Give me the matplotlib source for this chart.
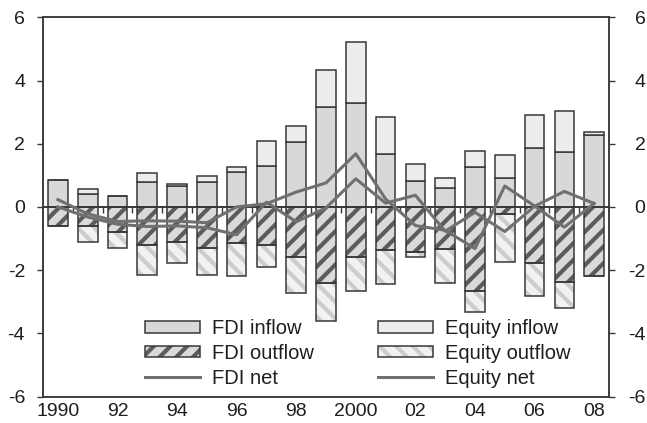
import numpy as np
import matplotlib
matplotlib.use("Agg")
import matplotlib.pyplot as plt
from matplotlib.patches import Patch
from matplotlib.lines import Line2D

plt.rcParams["font.family"] = ["Liberation Sans", "DejaVu Sans"]
plt.rcParams["axes.unicode_minus"] = False
plt.rcParams["hatch.linewidth"] = 3.0

# Capital flows, % of GDP
years = list(range(1990, 2009))
year_labels = ["1990", "92", "94", "96", "98", "2000", "02", "04", "06", "08"]

fdi_inflow = [0.86, 0.41, 0.33, 0.79, 0.67, 0.80, 1.12, 1.30, 2.06, 3.15,
              3.28, 1.66, 0.83, 0.61, 1.27, 0.93, 1.85, 1.75, 2.28]
equity_inflow = [0.00, 0.16, 0.00, 0.28, 0.06, 0.17, 0.14, 0.80, 0.51, 1.19,
                 1.94, 1.17, 0.53, 0.29, 0.50, 0.70, 1.05, 1.30, 0.10]
fdi_outflow = [-0.61, -0.61, -0.80, -1.22, -1.11, -1.30, -1.14, -1.22, -1.59, -2.40,
               -1.59, -1.37, -1.42, -1.33, -2.65, -0.24, -1.79, -2.37, -2.19]
equity_outflow = [0.00, -0.50, -0.50, -0.95, -0.66, -0.87, -1.05, -0.69, -1.14, -1.21,
                  -1.07, -1.07, -0.17, -1.07, -0.69, -1.50, -1.03, -0.83, 0.00]
fdi_net = [0.23, -0.22, -0.46, -0.44, -0.45, -0.50, 0.00, 0.10, 0.47, 0.76,
           1.68, 0.25, -0.59, -0.74, -1.32, 0.66, 0.03, -0.64, 0.11]
equity_net = [0.00, -0.32, -0.55, -0.62, -0.60, -0.66, -0.88, 0.15, -0.47, -0.03,
              0.89, 0.12, 0.37, -0.77, -0.17, -0.78, 0.02, 0.49, 0.11]

INK = "#1e1e1e"
EDGE = "#383838"
FDI_IN_COLOR = "#d7d8da"
EQ_IN_COLOR = "#eceeed"
FDI_OUT_BG = "#dadada"
FDI_OUT_HATCH = "#5c5c5c"
EQ_OUT_BG = "#f2f2f2"
EQ_OUT_HATCH = "#cdcdcd"
NET_COLOR = "#707070"
EDGE_LW = 1.1

x = np.arange(len(years))
width = 0.66

fig = plt.figure(figsize=(6.47, 4.23), dpi=100)
ax = fig.add_axes([0.0665, 0.0626, 0.8748, 0.8965])


def hatched_bars(heights, bottom, face, hatch, hatch_color):
    # hatch in its own colour, outline drawn separately on top
    ax.bar(x, heights, width, bottom=bottom, color=face, edgecolor=hatch_color,
           hatch=hatch, linewidth=0, zorder=1)
    ax.bar(x, heights, width, bottom=bottom, fill=False, edgecolor=EDGE,
           linewidth=EDGE_LW, zorder=1.1)


ax.bar(x, fdi_inflow, width, color=FDI_IN_COLOR, edgecolor=EDGE, linewidth=EDGE_LW, zorder=1)
ax.bar(x, equity_inflow, width, bottom=fdi_inflow, color=EQ_IN_COLOR, edgecolor=EDGE,
       linewidth=EDGE_LW, zorder=1)
hatched_bars(fdi_outflow, 0, FDI_OUT_BG, "//", FDI_OUT_HATCH)
hatched_bars(equity_outflow, fdi_outflow, EQ_OUT_BG, "\\\\", EQ_OUT_HATCH)

ax.plot(x, fdi_net, color=NET_COLOR, lw=2.2, zorder=3)
ax.plot(x, equity_net, color=NET_COLOR, lw=2.2, zorder=3)

# zero line with small ticks between the years
zero_axis = ax.secondary_xaxis(0, transform=ax.transData)
zero_axis.set_xticks(x[:-1] + 0.5)
zero_axis.tick_params(length=4.5, width=1.0, color=EDGE, direction="out", labelbottom=False)
zero_axis.spines["bottom"].set_linewidth(1.4)
zero_axis.spines["bottom"].set_color(EDGE)
zero_axis.set_zorder(2.5)

ax.set_xlim(-0.5, len(years) - 0.5)
ax.set_ylim(-6, 6)
ax.set_xticks(x[::2], year_labels)
ax.set_yticks(np.arange(-6, 7, 2))
ax.tick_params(axis="x", length=0, pad=5, labelsize=14, labelcolor=INK)
ax.tick_params(axis="y", direction="out", length=4.3, width=1.0, color=EDGE,
               pad=8.6, labelsize=14, labelcolor=INK)
for s in ax.spines.values():
    s.set_color(EDGE)
    s.set_linewidth(EDGE_LW)

ax2 = ax.twinx()
ax2.set_ylim(-6, 6)
ax2.set_yticks(np.arange(-6, 7, 2))
ax2.tick_params(axis="y", direction="out", length=4.3, width=1.0, color=EDGE,
                pad=22, labelsize=14, labelcolor=INK)
for label in ax2.get_yticklabels():
    label.set_ha("right")
for s in ax2.spines.values():
    s.set_color(EDGE)
    s.set_linewidth(EDGE_LW)

handles = [
    Patch(facecolor=FDI_IN_COLOR, edgecolor=EDGE, linewidth=EDGE_LW),
    (Patch(facecolor=FDI_OUT_BG, edgecolor=FDI_OUT_HATCH, hatch="//", linewidth=0),
     Patch(fill=False, edgecolor=EDGE, linewidth=EDGE_LW)),
    Line2D([], [], color=NET_COLOR, lw=2.2),
    Patch(facecolor=EQ_IN_COLOR, edgecolor=EDGE, linewidth=EDGE_LW),
    (Patch(facecolor=EQ_OUT_BG, edgecolor=EQ_OUT_HATCH, hatch="\\\\", linewidth=0),
     Patch(fill=False, edgecolor=EDGE, linewidth=EDGE_LW)),
    Line2D([], [], color=NET_COLOR, lw=2.2),
]
labels = ["FDI inflow", "FDI outflow", "FDI net", "Equity inflow", "Equity outflow", "Equity net"]
leg = ax2.legend(handles, labels, ncol=2, frameon=False, loc="upper left",
                 bbox_to_anchor=(145 / 647, 1 - 319 / 423), bbox_transform=fig.transFigure,
                 fontsize=14.5, handlelength=2.74, handleheight=0.5, handletextpad=0.6,
                 columnspacing=3.18, labelspacing=0.29, borderpad=0, borderaxespad=0)
for t in leg.get_texts():
    t.set_color(INK)

fig.savefig("out.png", dpi=100)
